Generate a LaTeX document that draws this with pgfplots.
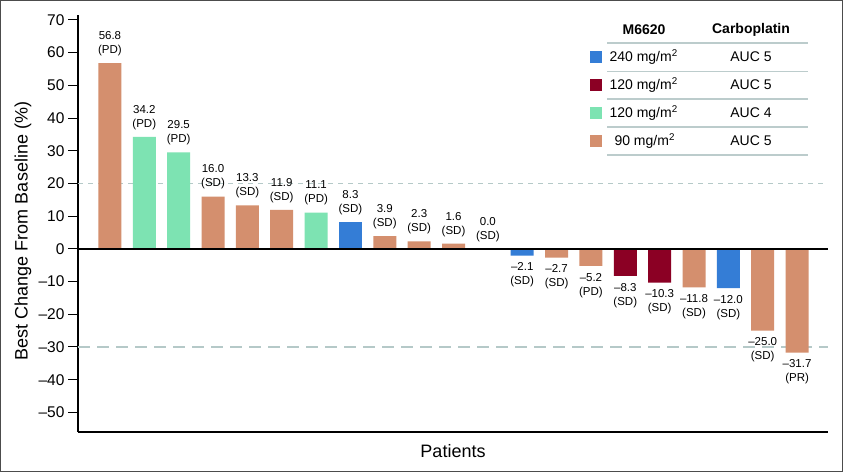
\documentclass[border=0pt]{standalone}
\usepackage{fontspec}
\setmainfont{Liberation Sans}
\usepackage{pgfplots}
\pgfplotsset{compat=1.18}
\usepackage{pgfplotstable}

\definecolor{orng}{HTML}{D48F6E}
\definecolor{mint}{HTML}{7DE3B2}
\definecolor{blu}{HTML}{347DD6}
\definecolor{wine}{HTML}{8B0024}
\definecolor{refline}{HTML}{B5C9C8}
\definecolor{rulegray}{HTML}{BCCCCC}

% patient index, best change, printed label (value and response)
\pgfplotstableread{
x y lab
0 56.8 {56.8\\(PD)}
3 16.0 {16.0\\(SD)}
4 13.3 {13.3\\(SD)}
5 11.9 {11.9\\(SD)}
8 3.9 {3.9\\(SD)}
9 2.3 {2.3\\(SD)}
10 1.6 {1.6\\(SD)}
11 0.0 {0.0\\(SD)}
}\orangeup
\pgfplotstableread{
x y lab
13 -2.7 {–2.7\\(SD)}
14 -5.2 {–5.2\\(PD)}
17 -11.8 {–11.8\\(SD)}
19 -25.0 {–25.0\\(SD)}
20 -31.7 {–31.7\\(PR)}
}\orangedown
\pgfplotstableread{
x y lab
1 34.2 {34.2\\(PD)}
2 29.5 {29.5\\(PD)}
6 11.1 {11.1\\(PD)}
}\mintup
\pgfplotstableread{
x y lab
7 8.3 {8.3\\(SD)}
}\blueup
\pgfplotstableread{
x y lab
12 -2.1 {–2.1\\(SD)}
18 -12.0 {–12.0\\(SD)}
}\bluedown
\pgfplotstableread{
x y lab
15 -8.3 {–8.3\\(SD)}
16 -10.3 {–10.3\\(SD)}
}\winedown

\begin{document}
\begin{tikzpicture}[x=1pt,y=1pt]
\fill[white] (0,0) rectangle (843,472);
\draw[line width=1pt, black!70] (0.5,0.5) rectangle (842.5,471.5);
\begin{axis}[
  at={(78pt,40pt)}, anchor=south west,
  scale only axis, width=750pt, height=417pt,
  xmin=-0.93, xmax=20.9, ymin=-56, ymax=71.5,
  axis lines=left,
  axis line style={-, line width=1.2pt, black},
  xtick=\empty,
  ytick={-50,-40,...,70},
  yticklabels={–50,–40,–30,–20,–10,0,10,20,30,40,50,60,70},
  tick align=outside, major tick length=10pt,
  ytick style={line width=1pt, black},
  tick label style={font=\fontsize{15.5}{17}\selectfont},
  clip=false,
  point meta=explicit symbolic,
  nodes near coords,
  nodes near coords align={anchor=south},
  every node near coord/.append style={font=\fontsize{11.5}{14}\selectfont,
    align=center, inner xsep=0pt, inner ysep=7pt, text=black},
  up/.style={ybar, bar width=23pt, draw=none, fill=#1},
  down/.style={ybar, bar width=23pt, draw=none, fill=#1,
    nodes near coords align={anchor=north}},
]
\draw[refline, line width=1.5pt, dash pattern=on 5pt off 5pt]
  (axis cs:-0.93,20) -- (axis cs:20.9,20);
\draw[refline, line width=1.5pt, dash pattern=on 12pt off 7pt]
  (axis cs:-0.93,-30) -- (axis cs:20.9,-30);
\addplot[up=orng]   table[x=x, y=y, meta=lab] {\orangeup};
\addplot[down=orng] table[x=x, y=y, meta=lab] {\orangedown};
\addplot[up=mint]   table[x=x, y=y, meta=lab] {\mintup};
\addplot[up=blu]    table[x=x, y=y, meta=lab] {\blueup};
\addplot[down=blu]  table[x=x, y=y, meta=lab] {\bluedown};
\addplot[down=wine] table[x=x, y=y, meta=lab] {\winedown};
\draw[black, line width=1.5pt] (axis cs:-0.93,0) -- (axis cs:20.9,0);
\end{axis}

\node[rotate=90, font=\fontsize{18}{20}\selectfont] at (23,241) {Best Change From Baseline (\%)};
\node[font=\fontsize{18}{20}\selectfont] at (453,21) {Patients};

% legend table
\begin{scope}[font=\fontsize{14}{16}\selectfont]
\node[font=\fontsize{14}{16}\selectfont\bfseries] at (644,442) {M6620};
\node[font=\fontsize{14}{16}\selectfont\bfseries] at (751,442) {Carboplatin};
\foreach \yy in {429,400.5,373,345,317}
  \draw[rulegray, line width=1.5pt] (607,\yy) -- (808,\yy);
\fill[blu]  (590,409) rectangle (602,421);
\fill[wine] (590,381) rectangle (602,393);
\fill[mint] (590,353) rectangle (602,365);
\fill[orng] (590,325) rectangle (602,337);
\node[anchor=base west] at (606,410) {240 mg/m\textsuperscript{2}};
\node[anchor=base west] at (606,382) {120 mg/m\textsuperscript{2}};
\node[anchor=base west] at (606,354) {120 mg/m\textsuperscript{2}};
\node[anchor=base west] at (611,326) {90 mg/m\textsuperscript{2}};
\node[anchor=base] at (751,410) {AUC 5};
\node[anchor=base] at (751,382) {AUC 5};
\node[anchor=base] at (751,354) {AUC 4};
\node[anchor=base] at (751,326) {AUC 5};
\end{scope}
\end{tikzpicture}
\end{document}
